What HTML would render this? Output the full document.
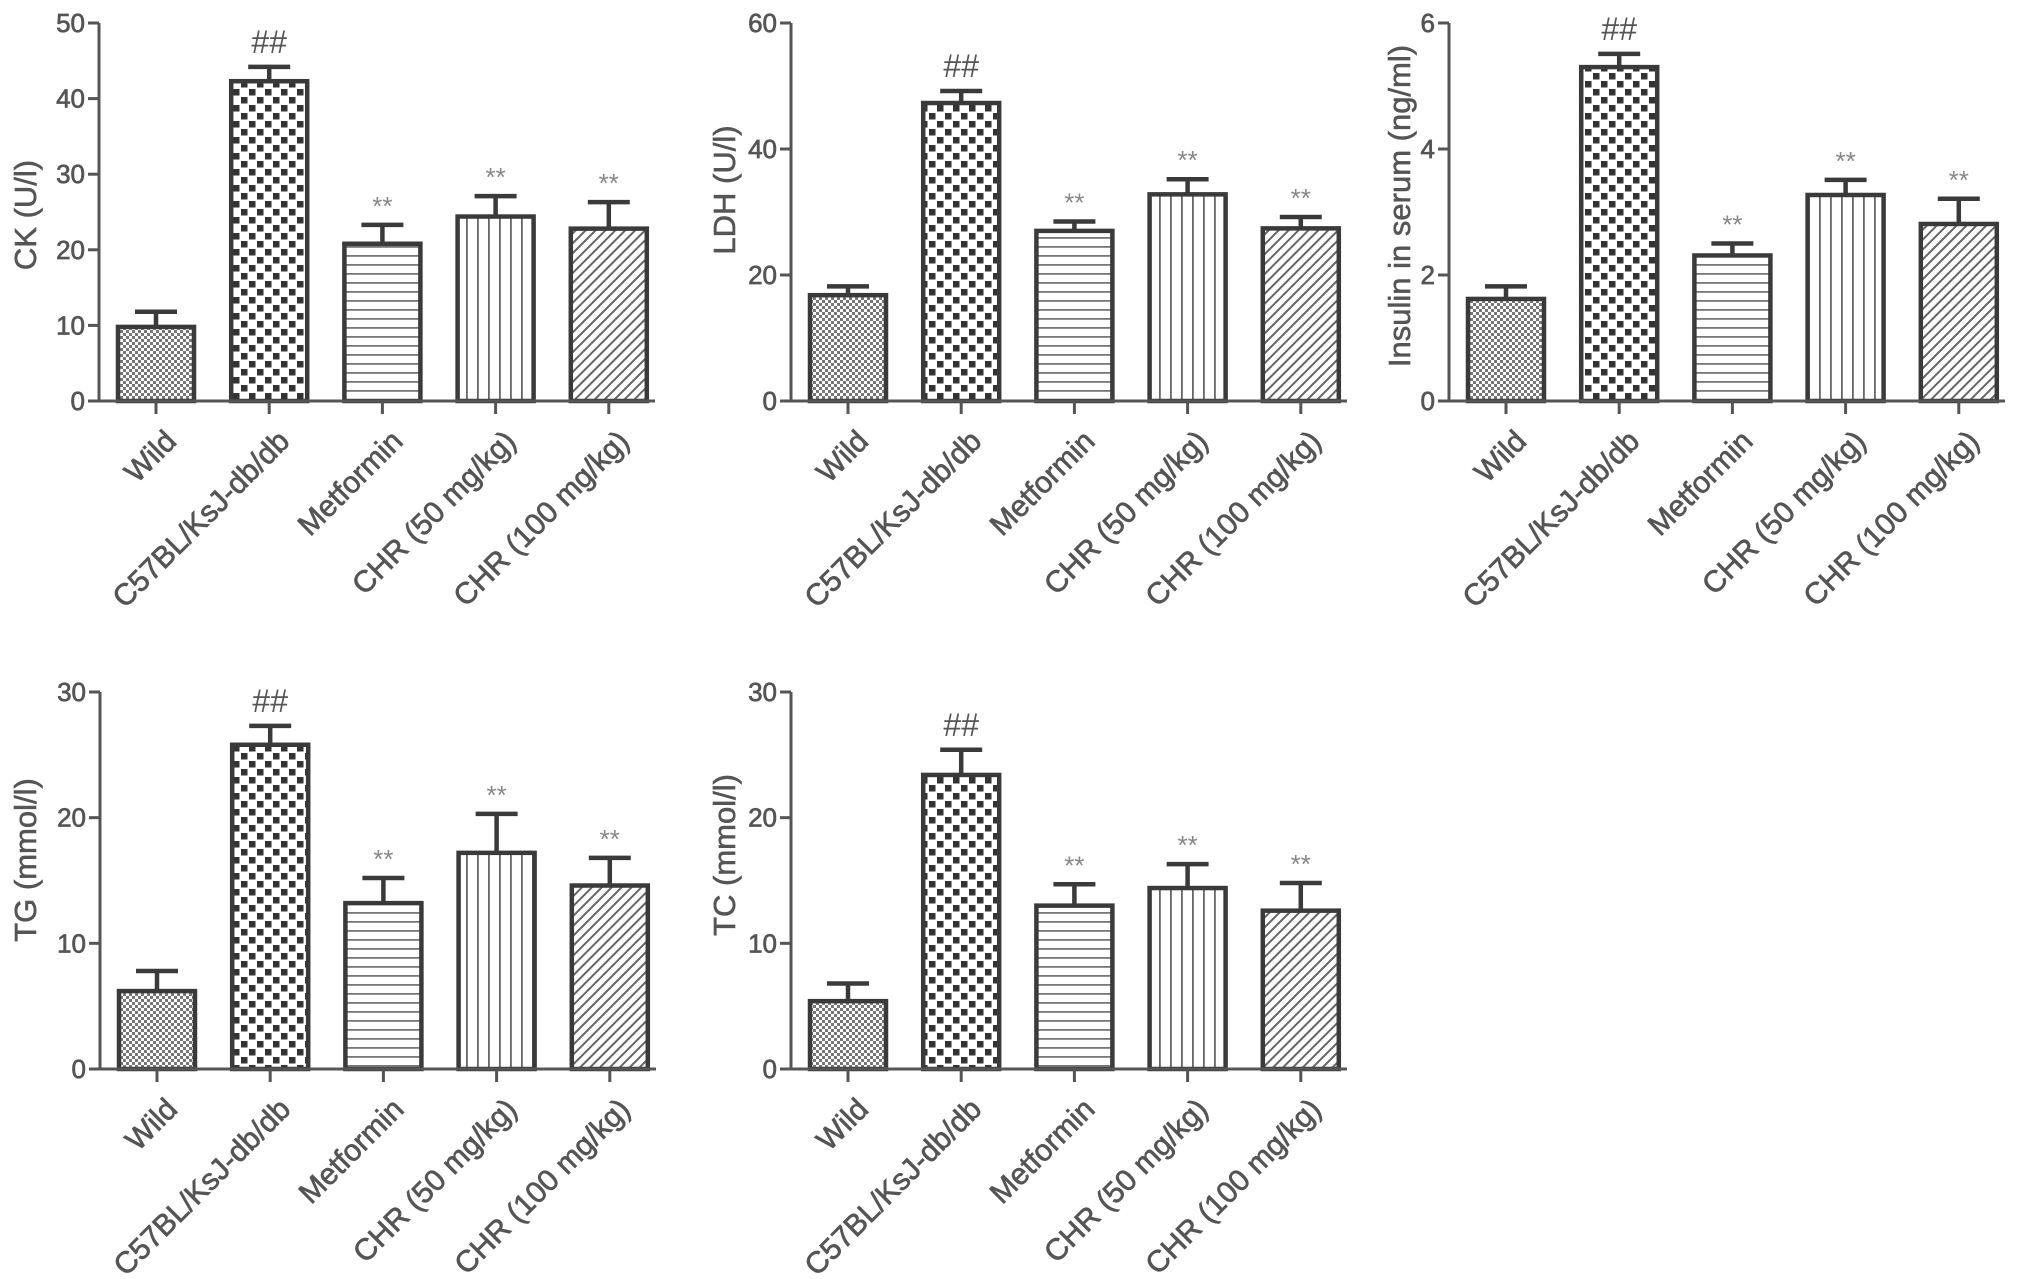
<!DOCTYPE html>
<html><head><meta charset="utf-8"><style>
html,body{margin:0;padding:0;background:#fff;}
svg{display:block;font-family:"Liberation Sans",Arial,sans-serif;}
</style></head><body>
<svg id="fig" width="2031" height="1279" viewBox="0 0 2031 1279" xmlns="http://www.w3.org/2000/svg">
<defs>
<pattern id="pDots" width="6" height="6" patternUnits="userSpaceOnUse"><rect width="6" height="6" fill="#fff"/><rect width="3" height="3" fill="#777"/><rect x="3" y="3" width="3" height="3" fill="#777"/></pattern>
<pattern id="pCheck" width="16" height="16" patternUnits="userSpaceOnUse"><rect width="16" height="16" fill="#fff"/><rect x="1" y="1" width="6.5" height="6.5" fill="#333"/><rect x="9" y="9" width="6.5" height="6.5" fill="#333"/></pattern>
<pattern id="pHoriz" width="10" height="9" patternUnits="userSpaceOnUse"><rect width="10" height="9" fill="#fff"/><rect y="3" width="10" height="1.8" fill="#777"/></pattern>
<pattern id="pVert" width="11" height="10" patternUnits="userSpaceOnUse"><rect width="11" height="10" fill="#fff"/><rect x="4" width="1.8" height="10" fill="#666"/></pattern>
<pattern id="pDiag" width="7" height="7" patternUnits="userSpaceOnUse" patternTransform="rotate(45)"><rect width="7" height="7" fill="#fff"/><rect x="2" width="2" height="7" fill="#666"/></pattern>
</defs>
</svg>
<script>
const categories = ["Wild","C57BL/KsJ-db/db","Metformin","CHR (50 mg/kg)","CHR (100 mg/kg)"];
const marks = ["","##","**","**","**"];
const ckMeans = [9.8,42.3,20.8,24.4,22.8];
const ckErrors = [2.0,1.9,2.5,2.7,3.5];
const ckTicks = [0,10,20,30,40,50];
const ldhMeans = [16.8,47.3,27.0,32.8,27.4];
const ldhErrors = [1.4,1.9,1.5,2.4,1.8];
const ldhTicks = [0,20,40,60];
const insMeans = [1.62,5.30,2.31,3.27,2.81];
const insErrors = [0.20,0.21,0.19,0.24,0.40];
const insTicks = [0,2,4,6];
const tgMeans = [6.2,25.8,13.2,17.2,14.6];
const tgErrors = [1.6,1.5,2.0,3.1,2.2];
const tgTicks = [0,10,20,30];
const tcMeans = [5.4,23.4,13.0,14.4,12.6];
const tcErrors = [1.4,2.0,1.7,1.9,2.2];
const tcTicks = [0,10,20,30];

const NS="http://www.w3.org/2000/svg";
const svg=document.getElementById('fig');
const fills=["url(#pDots)","url(#pCheck)","url(#pHoriz)","url(#pVert)","url(#pDiag)"];
function mk(tag,attrs,parent){const e=document.createElementNS(NS,tag);for(const k in attrs)e.setAttribute(k,attrs[k]);(parent||svg).appendChild(e);return e;}

function chart(id,title,means,errs,ticks,ax,y0,yTop,titleX,titleY){
  const g=mk('g',{});
  
  
  const maxV=ticks[ticks.length-1];
  const yS=v=>y0-(v/maxV)*(y0-yTop);
  const xS=i=>ax+57+i*113.2;
  const axEnd=ax+556;
  const bw=76;
  means.forEach((m,i)=>{
    const x=xS(i);
    const eb=mk('path',{d:`M${x},${yS(m)}V${yS(m+errs[i])}M${x-21},${yS(m+errs[i])}H${x+21}`,stroke:'#3a3a3a','stroke-width':4.5,fill:'none'},g);
    
    
    const r=mk('rect',{x:x-bw/2,y:yS(m),width:bw,height:y0-yS(m),fill:fills[i],stroke:'#3a3a3a','stroke-width':4.5},g);
    
    
    if(marks[i]){
      const t=mk('text',{x:x,y:yS(m+errs[i])-(i==1?14:10),'text-anchor':'middle','font-size':i==1?32:26,fill:i==1?'#555':'#888'},g);
      t.textContent=marks[i];
      
      
    }
    const tk=mk('line',{x1:x,x2:x,y1:y0,y2:y0+13,stroke:'#555','stroke-width':3},g);
    
    
    const lb=mk('text',{transform:`translate(${x+22},${y0+42}) rotate(-45)`,'text-anchor':'end','font-size':30,fill:'#555',stroke:'#555','stroke-width':0.7},g);
    lb.textContent=categories[i];
    
    
  });
  const axes=mk('path',{d:`M${ax},${yTop}V${y0}H${axEnd}`,stroke:'#555','stroke-width':3,fill:'none'},g);
  
  
  ticks.forEach(v=>{
    const tl=mk('line',{x1:ax-11,x2:ax,y1:yS(v),y2:yS(v),stroke:'#555','stroke-width':3},g);
    
    
    const tt=mk('text',{x:ax-14,y:yS(v)+9,'text-anchor':'end','font-size':26,fill:'#555',stroke:'#555','stroke-width':0.7},g);
    tt.textContent=v;
    
    
  });
  const yt=mk('text',{transform:`translate(${titleX},${titleY}) rotate(-90)`,'text-anchor':'middle','font-size':31,fill:'#555',stroke:'#555','stroke-width':0.6},g);
  yt.textContent=title;
  
  
}
chart('ck','CK (U/l)',ckMeans,ckErrors,ckTicks,99,401,23,36,215);
chart('ldh','LDH (U/l)',ldhMeans,ldhErrors,ldhTicks,791,401,23,735,190);
chart('insulin','Insulin in serum (ng/ml)',insMeans,insErrors,insTicks,1449,401,23,1410,206);
chart('tg','TG (mmol/l)',tgMeans,tgErrors,tgTicks,100,1069,692,36,860);
chart('tc','TC (mmol/l)',tcMeans,tcErrors,tcTicks,791,1069,692,735,855);
</script>
</body></html>
